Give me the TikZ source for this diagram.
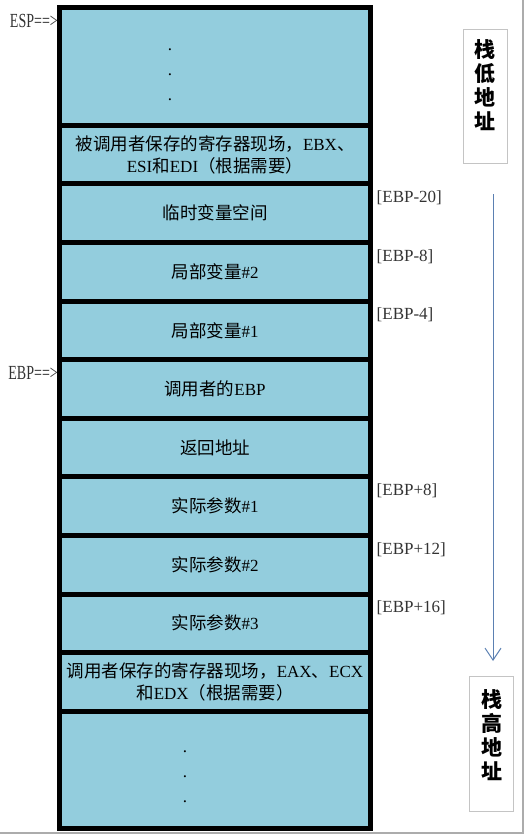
\documentclass[tikz,border=0pt]{standalone}
\usepackage{fontspec}
\setmainfont{Liberation Serif}
\newfontfamily\cjk{Noto Sans CJK SC}
\newfontfamily\narrowserif[FakeStretch=0.7]{Liberation Serif}
\usepackage{xcolor}
\usepackage{tikz}
\usetikzlibrary{positioning,arrows.meta}
\definecolor{stackblue}{HTML}{93CDDD}
\definecolor{arrowblue}{HTML}{5B80B2}
\definecolor{boxgray}{HTML}{C4C4C4}

\begin{document}
\begin{tikzpicture}[x=1pt,y=-1pt,
  cell/.style={draw=black,line width=5pt,fill=stackblue,minimum width=311pt,minimum height=58.6pt,
    inner sep=0pt,outer sep=0pt,align=center,font=\fontsize{17}{21}\selectfont},
  bigcell/.style={cell,minimum height=117.2pt},
  dots/.style={align=center,inner sep=0pt,font=\fontsize{17}{25}\selectfont},
  ptr/.style={inner sep=1pt,font=\fontsize{17}{20}\selectfont,text=black!80},
  regptr/.style={ptr,inner sep=0.5pt,font=\fontsize{20}{22}\narrowserif},
  addrbox/.style={draw=boxgray,line width=1pt,minimum width=44pt,inner sep=0pt},
  addrtext/.style={align=center,inner sep=0pt,font=\fontsize{21}{24}\selectfont\cjk\bfseries},
  flow/.style={arrowblue,line width=1pt,-{Straight Barb[length=12pt,width=16pt]}},
  shadowline/.style={gray!65,line width=2.5pt}]
\useasboundingbox (0,0) rectangle (525,837);
\newcommand\zh[1]{{\cjk\fontsize{17.5}{21}\selectfont #1}}
% stack frame cells
\node[bigcell] (top) at (215,66.6) {};
\node[cell,below=0pt of top] (saved) {\rule{0pt}{6pt}\zh{被调用者保存的寄存器现场，}EBX\zh{、}\\[1pt]ESI\zh{和}EDI\zh{（根据需要）}};
\node[cell,below=0pt of saved] (temp) {\zh{临时变量空间}};
\node[cell,below=0pt of temp] (local2) {\zh{局部变量}\#2};
\node[cell,below=0pt of local2] (local1) {\zh{局部变量}\#1};
\node[cell,below=0pt of local1] (oldebp) {\zh{调用者的}EBP};
\node[cell,below=0pt of oldebp] (ret) {\zh{返回地址}};
\node[cell,below=0pt of ret] (arg1) {\zh{实际参数}\#1};
\node[cell,below=0pt of arg1] (arg2) {\zh{实际参数}\#2};
\node[cell,below=0pt of arg2] (arg3) {\zh{实际参数}\#3};
\node[cell,below=0pt of arg3] (callersaved) {\zh{调用者保存的寄存器现场，}EAX\zh{、}ECX\\[1pt]\zh{和}EDX\zh{（根据需要）}};
\node[bigcell,below=0pt of callersaved] (bottom) {};
\node[dots] (topdots) at (170,75) {.\\.\\.};
\node[dots] (bottomdots) at (185,777) {.\\.\\.};
% pointers and offsets
\node[regptr,left=1pt of top.north west,yshift=-13pt] (esp) {ESP==>};
\node[regptr,left=1pt of oldebp.north west,yshift=-13pt] (ebp) {EBP==>};
\node[ptr,right=5pt of temp.north east,yshift=-14pt] (off20) {[EBP-20]};
\node[ptr,right=5pt of local2.north east,yshift=-14pt] (off8) {[EBP-8]};
\node[ptr,right=5pt of local1.north east,yshift=-14pt] (off4) {[EBP-4]};
\node[ptr,right=5pt of arg1.north east,yshift=-14pt] (arg8) {[EBP+8]};
\node[ptr,right=5pt of arg2.north east,yshift=-14pt] (arg12) {[EBP+12]};
\node[ptr,right=5pt of arg3.north east,yshift=-14pt] (arg16) {[EBP+16]};
% address direction
\node[addrbox,minimum height=134pt] (lowbox) at (485,97) {};
\node[addrtext,below=10pt of lowbox.north] (lowtext) {栈\\低\\地\\址};
\node[addrbox,minimum height=135pt] (highbox) at (491.5,743.5) {};
\node[addrtext,below=14pt of highbox.north] (hightext) {栈\\高\\地\\址};
\coordinate (arrowtop) at (493,194);
\coordinate (arrowtip) at (493,661);
\draw[flow] (arrowtop) -- (arrowtip);
\draw[shadowline] (0,833) -- (523,833) -- (523,0);
\end{tikzpicture}
\end{document}
